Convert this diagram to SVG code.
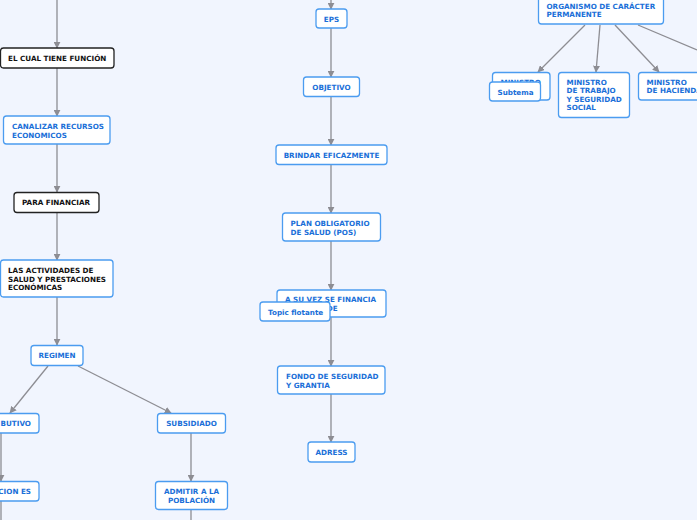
<svg xmlns="http://www.w3.org/2000/svg" width="697" height="520" viewBox="0 0 697 520">
<defs>
<marker id="arr" viewBox="0 0 10 10" refX="9" refY="5" markerWidth="7" markerHeight="7" markerUnits="userSpaceOnUse" orient="auto">
<path d="M0,0 L10,5 L0,10 z" fill="#8d8d93"/>
</marker>
<style>
.bg{fill:#f1f5fe}
.b{fill:#fff;stroke:#4b9cf0;stroke-width:1.3}
.k{fill:#fff;stroke:#222;stroke-width:1.3}
.t{font-family:"DejaVu Sans",Verdana,sans-serif;font-weight:bold;font-size:7.2px;fill:#1a6fd8}
.tk{font-family:"DejaVu Sans",Verdana,sans-serif;font-weight:bold;font-size:7.2px;fill:#111}
.c{text-anchor:middle}
.l{stroke:#8d8d93;stroke-width:1.3;fill:none;marker-end:url(#arr)}
.ln{stroke:#8d8d93;stroke-width:1.3;fill:none}
</style>
</defs>
<rect class="bg" x="0" y="0" width="697" height="520"/>
<g id="connectors">
<line class="l" x1="57" y1="0" x2="57" y2="48"/>
<line class="l" x1="57" y1="68" x2="57" y2="116"/>
<line class="l" x1="57" y1="144" x2="57" y2="192"/>
<line class="l" x1="57" y1="212" x2="57" y2="260"/>
<line class="l" x1="57" y1="297" x2="57" y2="345"/>
<line class="l" x1="48" y1="366" x2="10" y2="413"/>
<line class="l" x1="78" y1="366" x2="171" y2="413"/>
<line class="l" x1="1" y1="433" x2="1" y2="481"/>
<line class="ln" x1="1" y1="501" x2="1" y2="520"/>
<line class="l" x1="191" y1="433" x2="191" y2="481"/>
<line class="ln" x1="191" y1="509" x2="191" y2="520"/>
<line class="l" x1="331" y1="0" x2="331" y2="9"/>
<line class="l" x1="331" y1="28" x2="331" y2="77"/>
<line class="l" x1="331" y1="96" x2="331" y2="145"/>
<line class="l" x1="331" y1="164" x2="331" y2="213"/>
<line class="l" x1="331" y1="241" x2="331" y2="290"/>
<line class="l" x1="331" y1="317" x2="331" y2="366"/>
<line class="l" x1="331" y1="394" x2="331" y2="442"/>
<line class="l" x1="585" y1="25" x2="538" y2="72"/>
<line class="l" x1="600" y1="25" x2="596" y2="72"/>
<line class="l" x1="615" y1="25" x2="659" y2="72"/>
<line class="ln" x1="638" y1="25" x2="697" y2="50"/>
</g>
<g id="n-funcion"><rect class="k" x="0.5" y="48" width="113.5" height="20" rx="3"/><text class="tk" x="8" y="61">EL CUAL TIENE FUNCIÓN</text></g>
<g id="n-canalizar"><rect class="b" x="3.5" y="116" width="106.5" height="28" rx="3"/><text class="t" x="12" y="129">CANALIZAR RECURSOS</text><text class="t" x="12" y="137.5">ECONOMICOS</text></g>
<g id="n-financiar"><rect class="k" x="14" y="192.5" width="85" height="20" rx="3"/><text class="tk" x="22" y="205">PARA FINANCIAR</text></g>
<g id="n-actividades"><rect class="b" x="0.5" y="260" width="112.5" height="37" rx="3"/><text class="tk" x="8" y="272.5">LAS ACTIVIDADES DE</text><text class="tk" x="8" y="281.5">SALUD Y PRESTACIONES</text><text class="tk" x="8" y="290">ECONÓMICAS</text></g>
<g id="n-regimen"><rect class="b" x="31" y="345.5" width="52" height="20" rx="3"/><text class="t c" x="57" y="358">REGIMEN</text></g>
<g id="n-contributivo"><rect class="b" x="-20" y="413.5" width="59" height="19.5" rx="3"/><text class="t" x="31" y="426" text-anchor="end">BUTIVO</text></g>
<g id="n-afiliacion"><rect class="b" x="-20" y="481.5" width="59" height="19.5" rx="3"/><text class="t" x="31" y="494" text-anchor="end">CION ES</text></g>
<g id="n-subsidiado"><rect class="b" x="157.5" y="413.5" width="68" height="19.5" rx="3"/><text class="t c" x="191.5" y="426">SUBSIDIADO</text></g>
<g id="n-admitir"><rect class="b" x="155.5" y="481.5" width="72" height="28" rx="3"/><text class="t c" x="191.5" y="494">ADMITIR A LA</text><text class="t c" x="191.5" y="502.5">POBLACIÓN</text></g>
<g id="n-eps"><rect class="b" x="316" y="9" width="31" height="19" rx="3"/><text class="t c" x="331.5" y="21.5">EPS</text></g>
<g id="n-objetivo"><rect class="b" x="303.5" y="77" width="56" height="19.5" rx="3"/><text class="t c" x="331.5" y="90">OBJETIVO</text></g>
<g id="n-brindar"><rect class="b" x="276" y="145" width="111" height="19.5" rx="3"/><text class="t c" x="331.5" y="158">BRINDAR EFICAZMENTE</text></g>
<g id="n-plan"><rect class="b" x="282.5" y="213" width="98" height="28" rx="3"/><text class="t" x="290.5" y="226">PLAN OBLIGATORIO</text><text class="t" x="290.5" y="234.5">DE SALUD (POS)</text></g>
<g id="n-financia"><rect class="b" x="277" y="290" width="109" height="27" rx="3"/><text class="t" x="285" y="302">A SU VEZ SE FINANCIA</text><text class="t" x="285" y="310.5">A TRAVÉS DE</text></g>
<g id="n-topic"><rect class="b" x="260" y="302" width="70" height="19" rx="3"/><text class="t" x="268" y="314.5">Topic flotante</text></g>
<g id="n-fondo"><rect class="b" x="277.5" y="366" width="107.5" height="28" rx="3"/><text class="t" x="286" y="379">FONDO DE SEGURIDAD</text><text class="t" x="286" y="387.5">Y GRANTIA</text></g>
<g id="n-adress"><rect class="b" x="308" y="442" width="47" height="20" rx="3"/><text class="t c" x="331.5" y="455">ADRESS</text></g>
<g id="n-organismo"><rect class="b" x="538.5" y="-5" width="125" height="29" rx="3"/><text class="t" x="546.5" y="8.5">ORGANISMO DE CARÁCTER</text><text class="t" x="546.5" y="17">PERMANENTE</text></g>
<g id="n-ministro1"><rect class="b" x="492.5" y="72.5" width="57.5" height="27.5" rx="3"/><text class="t" x="500.5" y="84.5">MINISTRO</text></g>
<g id="n-subtema"><rect class="b" x="489.5" y="82" width="51" height="19" rx="3"/><text class="t" x="497.5" y="94.5">Subtema</text></g>
<g id="n-trabajo"><rect class="b" x="558.5" y="72.5" width="71" height="45" rx="3"/><text class="t" x="566.5" y="84.5">MINISTRO</text><text class="t" x="566.5" y="93">DE TRABAJO</text><text class="t" x="566.5" y="101.5">Y SEGURIDAD</text><text class="t" x="566.5" y="110">SOCIAL</text></g>
<g id="n-hacienda"><rect class="b" x="638.5" y="72.5" width="70" height="27.5" rx="3"/><text class="t" x="646.5" y="84.5">MINISTRO</text><text class="t" x="646.5" y="93">DE HACIENDA</text></g>
</svg>
